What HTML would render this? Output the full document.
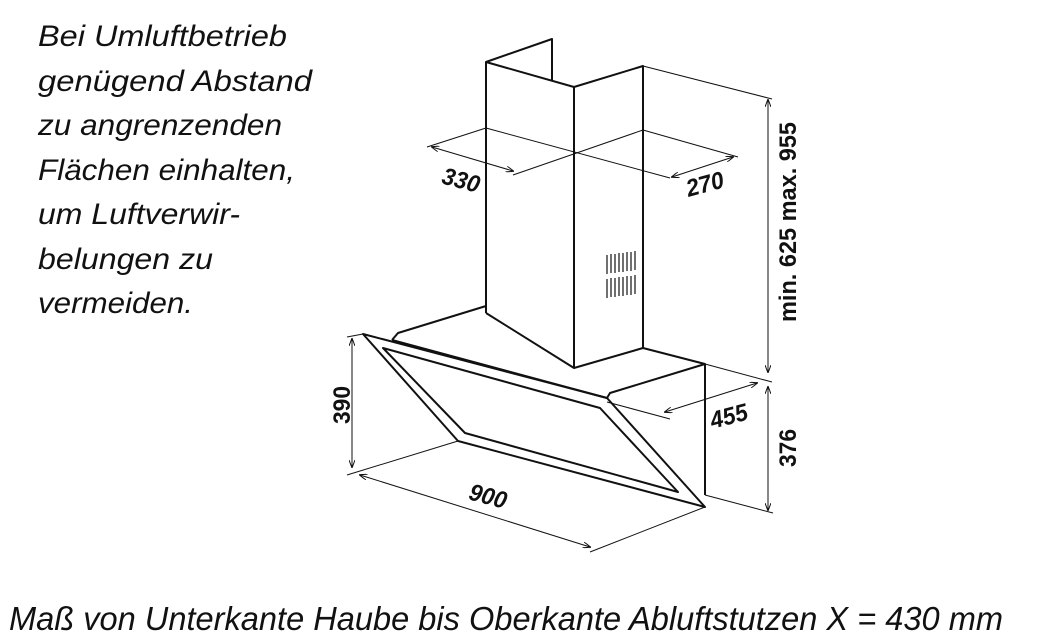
<!DOCTYPE html>
<html><head><meta charset="utf-8"><style>
html,body{margin:0;padding:0;background:#fff;}
svg{display:block;}
.t{font-family:"Liberation Sans",sans-serif;font-style:italic;fill:#111;}
.d{font-family:"Liberation Sans",sans-serif;font-weight:bold;fill:#111;font-size:24px;}
</style></head><body>
<svg width="1043" height="644" viewBox="0 0 1043 644" xmlns="http://www.w3.org/2000/svg">
<defs>
<marker id="a" markerWidth="8" markerHeight="6" refX="7" refY="3" orient="auto-start-reverse" markerUnits="userSpaceOnUse">
<path d="M0,0 L8,3 L0,6" fill="none" stroke="#111" stroke-width="1"/></marker>
</defs>
<g class="t" font-size="30">
<text x="38" y="46" textLength="249" lengthAdjust="spacingAndGlyphs">Bei Umluftbetrieb</text>
<text x="38" y="91" textLength="274" lengthAdjust="spacingAndGlyphs">genügend Abstand</text>
<text x="38" y="135" textLength="244" lengthAdjust="spacingAndGlyphs">zu angrenzenden</text>
<text x="38" y="180" textLength="257" lengthAdjust="spacingAndGlyphs">Flächen einhalten,</text>
<text x="38" y="224" textLength="202" lengthAdjust="spacingAndGlyphs">um Luftverwir-</text>
<text x="38" y="269" textLength="175" lengthAdjust="spacingAndGlyphs">belungen zu</text>
<text x="38" y="313" textLength="155" lengthAdjust="spacingAndGlyphs">vermeiden.</text>
</g>
<text class="t" x="9" y="630" font-size="33" textLength="994" lengthAdjust="spacingAndGlyphs">Maß von Unterkante Haube bis Oberkante Abluftstutzen X = 430 mm</text>

<g fill="none" stroke="#111" stroke-width="2" stroke-linejoin="round">
<polyline points="486,313 486,62 552,39 552,81"/>
<polyline points="486,62 574,87 643,66 643,348 574,368 486,313"/>
<line x1="574" y1="87" x2="574" y2="368"/>
<polyline points="486,306 398,333 392,340"/>
<polyline points="643,348 705,364 705,495"/>
<polyline points="705,364 610,393 607,398"/>
<line x1="392" y1="340" x2="607" y2="398"/>
<polygon points="363,334 607,398 705,507 458,441"/>
<polygon points="383,348 600,408 678,492 465,433"/>
</g>
<g stroke="#111" stroke-width="1.2">
<path d="M607,255v19M611,254v19M615,254v19M619,253v19M623,253v19M627,252v19M631,252v19M635,251v19"/>
<path d="M607,279v19M611,278v19M615,278v19M619,277v19M623,277v19M627,276v19M631,276v19M635,275v19"/>
</g>
<g stroke="#111" stroke-width="1" fill="none">
<line x1="427" y1="147" x2="486" y2="128"/>
<line x1="486" y1="128" x2="670" y2="178"/>
<line x1="643" y1="130" x2="513" y2="175"/>
<line x1="643" y1="130" x2="738" y2="157"/>
<line x1="432" y1="147" x2="513" y2="171" marker-start="url(#a)" marker-end="url(#a)"/>
<line x1="672" y1="177" x2="733" y2="157" marker-start="url(#a)" marker-end="url(#a)"/>
<line x1="643" y1="66" x2="772" y2="99"/>
<line x1="768" y1="100" x2="768" y2="372" marker-start="url(#a)" marker-end="url(#a)"/>
<line x1="705" y1="364" x2="772" y2="382"/>
<line x1="768" y1="387" x2="768" y2="510" marker-start="url(#a)" marker-end="url(#a)"/>
<line x1="705" y1="495" x2="773" y2="513"/>
<line x1="665" y1="412" x2="757" y2="383" marker-start="url(#a)" marker-end="url(#a)"/>
<line x1="607" y1="402" x2="670" y2="419"/>
<line x1="347" y1="337" x2="363" y2="334"/>
<line x1="352" y1="339" x2="352" y2="467" marker-start="url(#a)" marker-end="url(#a)"/>
<line x1="347" y1="475" x2="458" y2="441"/>
<line x1="360" y1="475" x2="590" y2="547" marker-start="url(#a)" marker-end="url(#a)"/>
<line x1="590" y1="552" x2="705" y2="507"/>
</g>
<g class="d">
<text transform="translate(459,188) rotate(15)" text-anchor="middle" font-style="italic" textLength="38" lengthAdjust="spacingAndGlyphs">330</text>
<text transform="translate(707,192) rotate(-15)" text-anchor="middle" font-style="italic" textLength="38" lengthAdjust="spacingAndGlyphs">270</text>
<text transform="translate(731,424) rotate(-15)" text-anchor="middle" font-style="italic" textLength="38" lengthAdjust="spacingAndGlyphs">455</text>
<text transform="translate(486,504) rotate(15)" text-anchor="middle" font-style="italic" textLength="38" lengthAdjust="spacingAndGlyphs">900</text>
<text transform="translate(350,405) rotate(-90)" text-anchor="middle" textLength="38" lengthAdjust="spacingAndGlyphs">390</text>
<text transform="translate(796,448) rotate(-90)" text-anchor="middle" textLength="38" lengthAdjust="spacingAndGlyphs">376</text>
<text transform="translate(796,222) rotate(-90)" text-anchor="middle" textLength="200" lengthAdjust="spacingAndGlyphs">min. 625  max. 955</text>
</g>
</svg>
</body></html>
